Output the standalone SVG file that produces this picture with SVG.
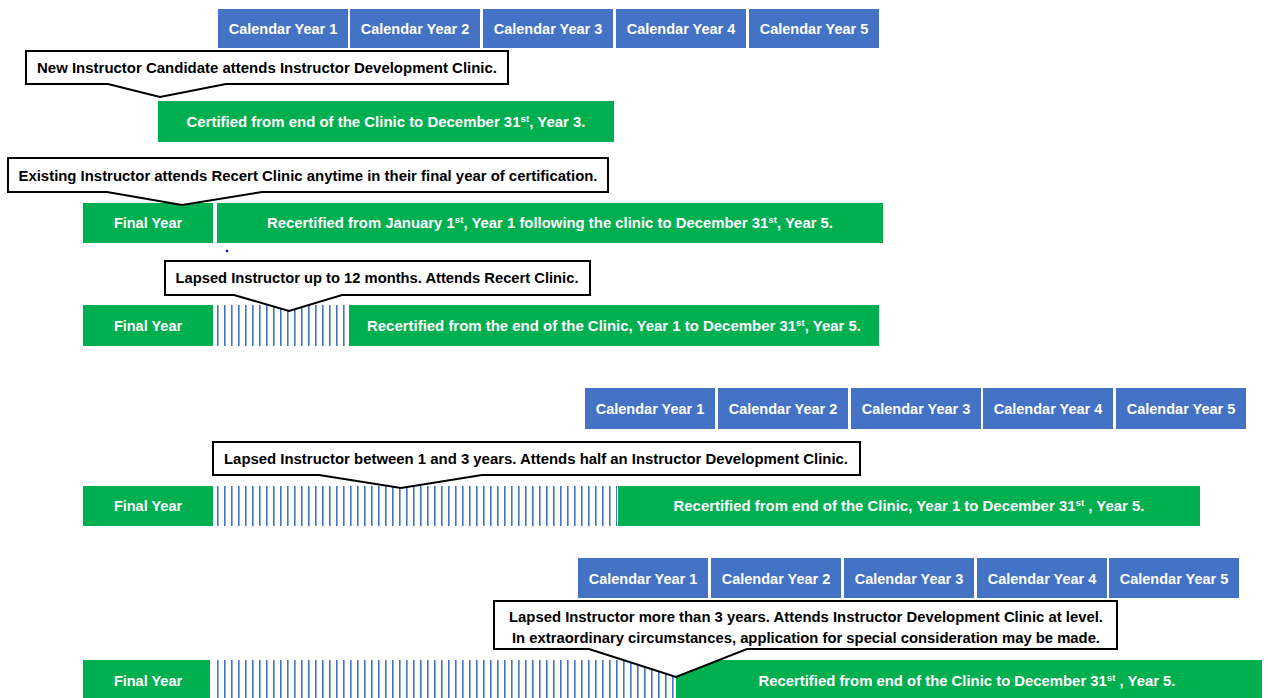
<svg xmlns="http://www.w3.org/2000/svg" width="1268" height="698" viewBox="0 0 1268 698">
<defs>
<pattern id="stripes" patternUnits="userSpaceOnUse" x="216" y="0" width="7" height="10">
<rect x="1" y="0" width="1.6" height="10" fill="#4472C4"/>
</pattern>
<style>
.cal{fill:#4472C4}
.grn{fill:#00B050}
.hatch{fill:url(#stripes)}
.callout{fill:#ffffff;stroke:#000000;stroke-width:2;stroke-linejoin:miter}
text{font-family:"Liberation Sans",Arial,sans-serif;font-weight:bold;font-size:14.5px;text-anchor:middle}
.w{fill:#ffffff}
.b{fill:#000000}
.sup{font-size:9.5px}
</style>
</defs>
<rect width="1268" height="698" fill="#ffffff"/>

<g id="calendar-row-1">
<rect class="cal" x="218" y="9" width="130" height="39"/>
<rect class="cal" x="350" y="9" width="130" height="39"/>
<rect class="cal" x="483" y="9" width="130" height="39"/>
<rect class="cal" x="616" y="9" width="130" height="39"/>
<rect class="cal" x="749" y="9" width="130" height="39"/>
<text class="w" x="283" y="34">Calendar Year 1</text>
<text class="w" x="415" y="34">Calendar Year 2</text>
<text class="w" x="548" y="34">Calendar Year 3</text>
<text class="w" x="681" y="34">Calendar Year 4</text>
<text class="w" x="814" y="34">Calendar Year 5</text>
</g>

<g id="certified-new">
<rect class="grn" x="158" y="101" width="456" height="41"/>
<text class="w" x="386" y="127" textLength="399" lengthAdjust="spacingAndGlyphs">Certified from end of the Clinic to December 31<tspan class="sup" baseline-shift="super">st</tspan>, Year 3.</text>
</g>

<g id="callout-new">
<path class="callout" d="M26,51 H508 V84 H226 L160,97 L108,84 H26 Z"/>
<text class="b" x="267" y="73" textLength="460" lengthAdjust="spacingAndGlyphs">New Instructor Candidate attends Instructor Development Clinic.</text>
</g>

<g id="row-existing">
<rect class="grn" x="83" y="203" width="130" height="40"/>
<text class="w" x="148" y="228">Final Year</text>
<rect class="grn" x="217" y="203" width="666" height="40"/>
<text class="w" x="550" y="228" textLength="566" lengthAdjust="spacingAndGlyphs">Recertified from January 1<tspan class="sup" baseline-shift="super">st</tspan>, Year 1 following the clinic to December 31<tspan class="sup" baseline-shift="super">st</tspan>, Year 5.</text>
</g>

<g id="callout-existing">
<path class="callout" d="M8,158 H608 V192 H262 L182,205 L107,192 H8 Z"/>
<text class="b" x="308" y="181" textLength="579" lengthAdjust="spacingAndGlyphs">Existing Instructor attends Recert Clinic anytime in their final year of certification.</text>
</g>

<g id="dot">
<circle cx="227" cy="251" r="1.3" fill="#0000ff"/>
</g>

<g id="row-lapsed-12m">
<rect class="grn" x="83" y="305" width="130" height="41"/>
<text class="w" x="148" y="331">Final Year</text>
<rect class="hatch" x="216" y="305" width="130" height="41"/>
<rect class="grn" x="349" y="305" width="530" height="41"/>
<text class="w" x="614" y="331" textLength="494" lengthAdjust="spacingAndGlyphs">Recertified from the end of the Clinic, Year 1 to December 31<tspan class="sup" baseline-shift="super">st</tspan>, Year 5.</text>
</g>

<g id="callout-lapsed-12m">
<path class="callout" d="M165,261 H590 V295 H342 L289,311 L234,295 H165 Z"/>
<text class="b" x="377" y="283" textLength="403" lengthAdjust="spacingAndGlyphs">Lapsed Instructor up to 12 months. Attends Recert Clinic.</text>
</g>

<g id="calendar-row-2">
<rect class="cal" x="585" y="388" width="130" height="41"/>
<rect class="cal" x="718" y="388" width="130" height="41"/>
<rect class="cal" x="851" y="388" width="130" height="41"/>
<rect class="cal" x="983" y="388" width="130" height="41"/>
<rect class="cal" x="1116" y="388" width="130" height="41"/>
<text class="w" x="650" y="414">Calendar Year 1</text>
<text class="w" x="783" y="414">Calendar Year 2</text>
<text class="w" x="916" y="414">Calendar Year 3</text>
<text class="w" x="1048" y="414">Calendar Year 4</text>
<text class="w" x="1181" y="414">Calendar Year 5</text>
</g>

<g id="row-lapsed-1-3">
<rect class="grn" x="83" y="486" width="130" height="40"/>
<text class="w" x="148" y="511">Final Year</text>
<rect class="hatch" x="216" y="486" width="401" height="40"/>
<rect class="grn" x="618" y="486" width="582" height="40"/>
<text class="w" x="909" y="511" textLength="471" lengthAdjust="spacingAndGlyphs">Recertified from end of the Clinic, Year 1 to December 31<tspan class="sup" baseline-shift="super">st</tspan> , Year 5.</text>
</g>

<g id="callout-lapsed-1-3">
<path class="callout" d="M213,442 H860 V475 H482 L401,488 L319,475 H213 Z"/>
<text class="b" x="536" y="464" textLength="624" lengthAdjust="spacingAndGlyphs">Lapsed Instructor between 1 and 3 years. Attends half an Instructor Development Clinic.</text>
</g>

<g id="calendar-row-3">
<rect class="cal" x="578" y="558" width="130" height="40"/>
<rect class="cal" x="711" y="558" width="130" height="40"/>
<rect class="cal" x="844" y="558" width="130" height="40"/>
<rect class="cal" x="977" y="558" width="130" height="40"/>
<rect class="cal" x="1109" y="558" width="130" height="40"/>
<text class="w" x="643" y="584">Calendar Year 1</text>
<text class="w" x="776" y="584">Calendar Year 2</text>
<text class="w" x="909" y="584">Calendar Year 3</text>
<text class="w" x="1042" y="584">Calendar Year 4</text>
<text class="w" x="1174" y="584">Calendar Year 5</text>
</g>

<g id="row-lapsed-3plus">
<rect class="grn" x="83" y="660" width="127" height="38"/>
<text class="w" x="148" y="686">Final Year</text>
<rect class="hatch" x="214" y="660" width="462" height="38"/>
<rect class="grn" x="676" y="660" width="586" height="38"/>
<text class="w" x="967" y="686" textLength="417" lengthAdjust="spacingAndGlyphs">Recertified from end of the Clinic to December 31<tspan class="sup" baseline-shift="super">st</tspan> , Year 5.</text>
</g>

<g id="callout-lapsed-3plus">
<path class="callout" d="M494,601 H1117 V649 H747 L676,677 L589,649 H494 Z"/>
<text class="b" x="806" y="622" textLength="594" lengthAdjust="spacingAndGlyphs">Lapsed Instructor more than 3 years. Attends Instructor Development Clinic at level.</text>
<text class="b" x="806" y="643" textLength="588" lengthAdjust="spacingAndGlyphs">In extraordinary circumstances, application for special consideration may be made.</text>
</g>
</svg>
